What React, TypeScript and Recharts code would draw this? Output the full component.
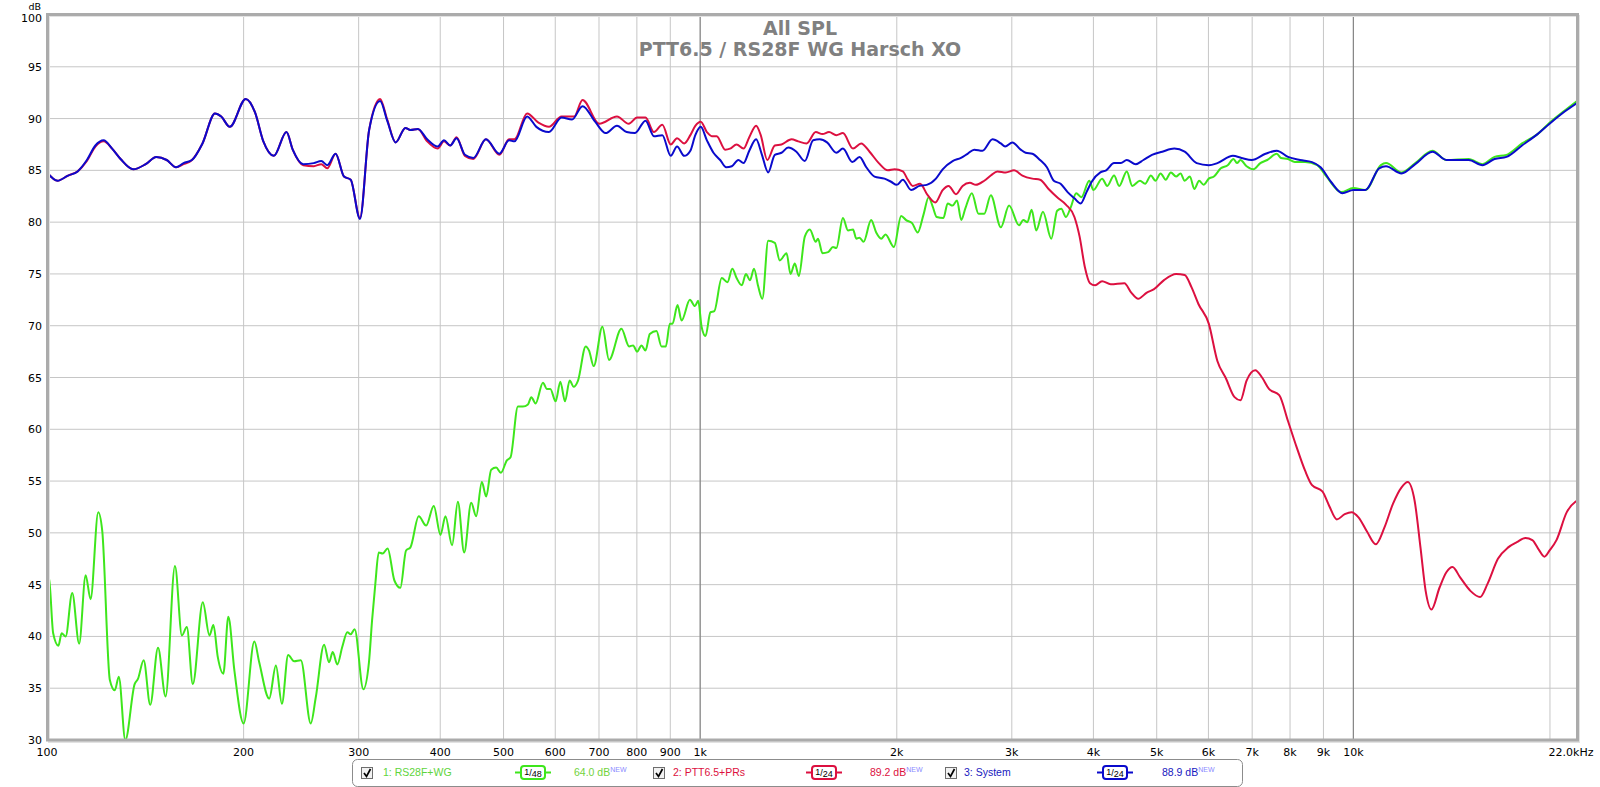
import React from "react";
import {
  LineChart,
  Line,
  XAxis,
  YAxis,
  CartesianGrid,
  ReferenceLine,
} from "recharts";

// 1: RS28F+WG (tweeter on waveguide)
const greenFreq = [
  100, 100.7, 102.2, 104.1, 105.3, 106.8, 109.3, 112.0, 114.6, 116.6, 119.8, 121.5, 124.8, 127.0, 128.8,
  131.8, 136.2, 137.8, 140.6, 143.9, 147.9, 151.9, 157.0, 160.9, 163.7, 167.2, 173.2, 177.3, 179.8, 182.6,
  186.2, 189.5, 193.6, 200.0, 207.7, 211.3, 218.9, 224.1, 228.9, 234.0, 239.0, 244.7, 253.4, 257.9, 265.6,
  270.3, 273.8, 278.3, 283.2, 288.3, 291.7, 295.8, 305.0, 311.1, 314.5, 318.2, 322.0, 326.5, 332.3, 340.3,
  347.5, 354.6, 360.1, 370.8, 380.6, 391.0, 400.3, 407.4, 417.1, 425.6, 435.2, 446.1, 454.0, 463.2, 470.3,
  478.7, 487.2, 495.3, 505.9, 512.5, 526.0, 535.4, 544.9, 551.4, 559.8, 574.5, 582.7, 589.6, 600.8, 610.8,
  621.0, 631.2, 640.2, 650.1, 668.0, 675.9, 687.1, 708.4, 725.3, 757.6, 778.4, 789.4, 800.7, 813.1, 824.6,
  837.3, 857.3, 872.5, 886.0, 898.6, 907.2, 923.3, 936.5, 964.5, 981.7, 993.3, 1005, 1019, 1037, 1051,
  1079, 1101, 1120, 1137, 1158, 1175, 1192, 1209, 1227, 1245, 1271, 1301, 1324, 1356, 1375,
  1396, 1416, 1446, 1472, 1503, 1515, 1539, 1570, 1597, 1616, 1654, 1684, 1714, 1734, 1754,
  1779, 1827, 1860, 1893, 1922, 1980, 2031, 2067, 2111, 2153, 2197, 2238, 2270, 2302, 2357,
  2393, 2435, 2473, 2510, 2546, 2606, 2668, 2722, 2786, 2886, 2971, 3077, 3124, 3169, 3217,
  3270, 3348, 3448, 3520, 3572, 3630, 3696, 3764, 3833, 3942, 4000, 4124, 4200, 4302, 4381,
  4499, 4588, 4713, 4800, 4898, 4977, 5069, 5161, 5256, 5353, 5438, 5518, 5620, 5709, 5806,
  5899, 6007, 6117, 6267, 6422, 6555, 6635, 6716, 6864, 7033, 7205, 7382, 7635, 7748, 7942,
  8135, 8436, 8804, 9074, 9584, 10000, 10434, 11019, 11221, 11853, 12441, 13218, 13881, 15017, 15764,
  16448, 17160, 18124, 19143, 19973, 21093, 22000,
];
const greenDb = [
  45.7, 45.6, 40.3, 39.1, 40.3, 40.0, 44.2, 39.3, 45.9, 43.6, 52.0, 50.2, 35.8, 34.8, 36.1,
  30.0, 35.4, 35.9, 37.7, 33.4, 38.9, 34.2, 46.8, 40.1, 40.9, 35.4, 43.3, 40.1, 41.1, 38.0,
  36.4, 41.9, 36.7, 31.6, 39.5, 37.5, 34.0, 37.2, 33.5, 38.2, 37.6, 37.7, 31.6, 34.1, 39.2,
  37.5, 38.5, 37.3, 39.0, 40.4, 40.2, 40.7, 34.9, 37.5, 41.5, 45.1, 48.1, 48.0, 48.5, 45.4,
  44.7, 48.3, 48.6, 51.6, 50.7, 52.6, 49.8, 51.6, 48.8, 53.0, 48.1, 52.9, 51.6, 54.9, 53.5,
  56.1, 56.3, 55.8, 57.0, 57.3, 62.2, 62.2, 62.4, 63.1, 62.5, 64.5, 63.9, 63.9, 62.7, 64.6,
  62.7, 64.7, 64.1, 64.7, 68.0, 67.6, 66.1, 69.9, 66.7, 69.7, 68.0, 68.1, 67.5, 68.1, 67.6,
  69.2, 69.5, 68.0, 68.0, 70.2, 70.2, 72.0, 70.5, 72.5, 71.9, 72.4, 69.9, 69.0, 71.3, 71.4,
  74.6, 74.2, 75.5, 74.6, 73.9, 75.0, 74.4, 75.5, 73.8, 72.6, 78.2, 78.0, 76.3, 77.0, 75.0,
  76.0, 74.8, 78.6, 79.3, 78.1, 78.4, 77.0, 77.1, 77.6, 77.5, 80.4, 79.2, 79.3, 78.4, 78.5,
  78.1, 80.2, 79.0, 78.4, 78.8, 77.6, 80.6, 80.2, 79.9, 79.0, 80.7, 82.4, 81.5, 80.5, 80.4,
  81.8, 81.6, 82.1, 80.2, 81.3, 82.8, 80.8, 80.8, 82.6, 79.5, 81.6, 79.7, 80.2, 80.0, 81.2,
  79.2, 81.0, 78.4, 81.1, 81.3, 80.5, 81.5, 82.8, 82.4, 84.0, 83.1, 84.2, 83.5, 84.5, 83.5,
  84.9, 83.5, 84.0, 83.7, 84.5, 84.0, 84.7, 84.1, 84.8, 84.4, 84.7, 84.0, 84.4, 83.2, 84.0,
  83.6, 84.2, 84.4, 85.2, 85.5, 86.1, 85.7, 86.0, 85.4, 85.1, 85.7, 86.0, 86.6, 86.2, 86.1,
  85.8, 85.8, 85.5, 84.5, 82.9, 83.3, 83.1, 85.5, 85.7, 84.8, 85.7, 86.9, 86.0, 86.1, 85.6,
  86.3, 86.5, 87.6, 88.5, 89.6, 90.8, 91.7,
];

// 2: PTT6.5+PRs (woofer)
const redFreq = [
  100, 103.8, 107.7, 111.4, 115.1, 118.6, 122.1, 125.8, 129.6, 135.5, 141.6, 147.0, 152.5, 157.6, 161.8,
  166.7, 173.0, 180.8, 184.8, 190.5, 201.5, 208.2, 214.4, 222.5, 232.6, 237.8, 246.8, 256.1, 263.0, 268.6,
  276.6, 284.9, 291.7, 301.4, 311.3, 323.6, 331.8, 341.8, 353.7, 360.0, 369.7, 382.0, 396.4, 405.3, 414.4,
  423.7, 436.4, 449.5, 469.9, 492.7, 509.8, 519.7, 543.3, 565.5, 586.8, 613.4, 641.2, 660.5, 700.8, 745.8,
  777.4, 800.7, 824.8, 849.6, 875.1, 901.4, 921.7, 945.4, 966, 983, 1002, 1024, 1042, 1060, 1092,
  1111, 1137, 1165, 1189, 1218, 1238, 1267, 1301, 1332, 1380, 1413, 1455, 1503, 1539, 1575,
  1616, 1654, 1714, 1764, 1817, 1877, 1938, 1984, 2043, 2079, 2116, 2171, 2230, 2291, 2351,
  2401, 2464, 2522, 2588, 2643, 2722, 2786, 2852, 2937, 3024, 3114, 3225, 3314, 3415, 3520,
  3630, 3741, 3810, 3880, 3952, 4024, 4124, 4251, 4461, 4571, 4684, 4829, 4947, 5130, 5353,
  5518, 5654, 5792, 6007, 6192, 6383, 6579, 6716, 6864, 7076, 7249, 7427, 7700, 7942, 8185,
  8436, 8645, 8965, 9185, 9434, 9701, 9939, 10184, 10498, 10821, 11156, 11498, 11853, 12114, 12411,
  12670, 12903, 13171, 13548, 13881, 14187, 14571, 15108, 15630, 16054, 16648, 17265, 17797, 18345, 18795,
  19259, 19613, 19973, 20464, 21222, 21878, 22000,
];
const redDb = [
  84.8, 84.0, 84.5, 84.9, 85.9, 87.3, 87.8, 87.1, 86.1, 85.1, 85.6, 86.3, 86.0, 85.3, 85.6,
  86.0, 87.6, 90.5, 90.2, 89.2, 91.9, 90.6, 87.8, 86.4, 88.7, 87.0, 85.5, 85.4, 85.6, 85.2,
  86.6, 84.4, 84.1, 80.4, 88.9, 91.9, 89.9, 87.7, 89.1, 88.9, 89.0, 87.8, 87.1, 87.8, 87.4,
  88.2, 86.4, 86.1, 88.0, 86.5, 88.0, 88.0, 90.5, 89.6, 89.2, 90.2, 90.2, 91.8, 89.5, 90.2,
  89.5, 90.1, 90.1, 88.7, 89.4, 87.5, 88.1, 87.6, 88.4, 89.3, 89.7, 88.7, 88.3, 88.3, 87.0,
  87.1, 87.5, 87.1, 88.2, 89.3, 88.4, 86.0, 87.4, 87.5, 88.0, 87.8, 87.6, 88.7, 88.5, 88.7,
  88.4, 88.6, 87.1, 87.6, 86.8, 85.7, 85.0, 85.1, 84.9, 84.1, 83.5, 83.7, 82.6, 81.9, 83.1,
  83.5, 82.7, 83.5, 83.8, 83.6, 84.0, 84.5, 84.9, 84.8, 85.0, 84.5, 84.2, 84.1, 83.2, 82.4,
  81.7, 80.5, 78.6, 75.7, 74.1, 73.9, 74.3, 74.0, 74.1, 73.2, 72.6, 73.2, 73.5, 74.4, 75.0,
  74.9, 73.7, 72.1, 70.2, 66.6, 64.9, 63.1, 62.8, 64.7, 65.7, 65.0, 63.9, 63.3, 60.8, 58.3,
  56.0, 54.6, 54.0, 52.6, 51.3, 51.8, 52.0, 51.5, 50.1, 48.9, 50.5, 52.8, 54.4, 54.9, 53.1,
  48.6, 44.4, 42.6, 44.7, 46.2, 46.7, 45.7, 44.4, 43.8, 45.1, 47.5, 48.6, 49.1, 49.5, 49.3,
  48.3, 47.7, 48.3, 49.3, 52.0, 53.0, 53.1,
];

// 3: System
const blueFreq = [
  100, 103.8, 107.7, 111.4, 115.1, 118.6, 122.1, 125.8, 129.6, 135.5, 141.6, 147.0, 152.5, 157.6, 161.8,
  166.7, 173.0, 180.8, 184.8, 190.5, 201.5, 208.2, 214.4, 222.5, 232.6, 237.8, 246.8, 256.1, 263.0, 268.6,
  276.6, 284.9, 291.7, 301.4, 311.3, 323.6, 331.8, 341.8, 353.7, 360.0, 369.7, 382.0, 396.4, 405.3, 414.4,
  423.7, 436.4, 449.5, 469.9, 492.7, 509.8, 519.7, 543.3, 561.3, 586.8, 613.4, 636.5, 660.5, 690.5, 716.6,
  745.8, 771.7, 794.8, 824.8, 849.6, 875.1, 901.4, 921.7, 945.4, 966, 983, 1002, 1024, 1048, 1073,
  1096, 1118, 1144, 1165, 1189, 1218, 1242, 1271, 1301, 1332, 1364, 1404, 1446, 1489, 1524,
  1564, 1616, 1654, 1710, 1754, 1796, 1849, 1915, 1960, 2000, 2043, 2104, 2166, 2223, 2296,
  2351, 2435, 2508, 2567, 2628, 2705, 2803, 2886, 2930, 3006, 3095, 3150, 3225, 3314, 3395,
  3478, 3563, 3652, 3741, 3824, 3904, 3976, 4099, 4184, 4302, 4407, 4499, 4644, 4771, 4917,
  5099, 5320, 5518, 5757, 6007, 6192, 6540, 6741, 6990, 7337, 7635, 7942, 8285, 8645, 8910,
  9241, 9619, 10000, 10434, 10953, 11221, 11853, 12441, 13218, 13881, 15017, 15764, 16448, 17160, 18124,
  19143, 19973, 21093, 22000,
];
const blueDb = [
  84.8, 84.0, 84.5, 84.9, 86.0, 87.4, 87.9, 87.1, 86.1, 85.1, 85.6, 86.3, 86.0, 85.3, 85.7,
  86.0, 87.6, 90.5, 90.2, 89.2, 91.9, 90.6, 87.8, 86.4, 88.7, 87.0, 85.6, 85.7, 85.9, 85.5,
  86.6, 84.4, 84.1, 80.3, 88.9, 91.7, 89.8, 87.7, 89.1, 88.9, 89.0, 88.0, 87.3, 87.9, 87.4,
  88.1, 86.5, 86.2, 88.0, 86.6, 87.9, 87.8, 90.2, 89.2, 88.7, 90.1, 89.9, 91.2, 89.7, 88.6,
  89.3, 88.7, 88.6, 89.8, 88.3, 88.4, 86.4, 87.3, 86.4, 86.9, 88.4, 89.2, 87.9, 86.7, 86.0,
  85.3, 85.4, 86.0, 85.7, 86.9, 88.0, 86.6, 84.8, 86.5, 86.7, 87.2, 86.8, 85.9, 87.9, 88.0,
  87.7, 86.7, 87.1, 85.8, 86.3, 85.3, 84.4, 84.2, 83.9, 83.6, 84.1, 83.1, 83.5, 83.6, 84.2,
  85.1, 85.9, 86.2, 86.6, 87.0, 86.9, 88.0, 87.6, 87.3, 87.7, 87.0, 86.7, 86.6, 86.0, 85.3,
  84.0, 83.7, 82.9, 82.3, 81.8, 82.9, 83.9, 84.8, 85.0, 85.7, 85.7, 86.0, 85.6, 86.0, 86.5,
  86.8, 87.1, 86.8, 85.7, 85.5, 85.7, 86.4, 86.2, 86.0, 86.6, 86.9, 86.3, 86.0, 85.8, 85.3,
  83.9, 82.8, 83.1, 83.1, 85.2, 85.4, 84.7, 85.6, 86.8, 86.0, 86.0, 85.5, 86.1, 86.3, 87.4,
  88.5, 89.5, 90.7, 91.5,
];

const xTicks = [
  100, 200, 300, 400, 500, 600, 700, 800, 900, 1000, 2000, 3000, 4000, 5000, 6000, 7000, 8000, 9000,
  10000, 20000, 22000,
];
const xTickLabels = [
  "100", "200", "300", "400", "500", "600", "700", "800", "900", "1k", "2k", "3k", "4k", "5k", "6k",
  "7k", "8k", "9k", "10k", "", "22.0kHz",
];
const yTicks = [30, 35, 40, 45, 50, 55, 60, 65, 70, 75, 80, 85, 90, 95, 100];

const GREEN = "#3ee61c";
const RED = "#dc1040";
const BLUE = "#0a0acc";
const AXIS_FONT = "'DejaVu Sans', Verdana, sans-serif";
const LEGEND_FONT = "'Liberation Sans', Arial, sans-serif";

const toPoints = (freq: number[], db: number[]) => freq.map((f, i) => ({ f, db: db[i] }));

const XTick = (props: any) => {
  const { x, y, payload } = props;
  const idx = xTicks.indexOf(payload.value);
  const label = idx >= 0 ? xTickLabels[idx] : "";
  if (!label) return null;
  const shift = payload.value === 22000 ? -6 : 0;
  return (
    <text x={x + shift} y={y + 16} textAnchor="middle" fontSize={11} fontFamily={AXIS_FONT} fill="#000">
      {label}
    </text>
  );
};

const YTick = (props: any) => {
  const { x, y, payload } = props;
  // top label sits a touch lower so it clears the "dB" unit above it
  const dy = payload.value === 100 ? 6.5 : 4;
  return (
    <text x={x - 5} y={y + dy} textAnchor="end" fontSize={11} fontFamily={AXIS_FONT} fill="#000">
      {payload.value}
    </text>
  );
};

const CheckBox = ({ x }: { x: number }) => (
  <g>
    <rect x={x + 0.5} y={767.5} width={11} height={11} fill="#f2f2f2" stroke="#6e6e6e" />
    <path d={`M${x + 3} ${773} L${x + 5.5} ${776.5} L${x + 9.5} ${769}`} fill="none" stroke="#000" strokeWidth={1.7} />
  </g>
);

const Badge = ({ cx, color, den }: { cx: number; color: string; den: string }) => (
  <g>
    <line x1={cx - 18} x2={cx + 18} y1={772.5} y2={772.5} stroke={color} strokeWidth={2} />
    <rect x={cx - 12} y={766} width={24} height={13} rx={3} fill="#fff" stroke={color} strokeWidth={2} />
    <text x={cx} y={776.5} textAnchor="middle" fontSize={9} fontFamily={LEGEND_FONT} fill="#000">
      <tspan dy={-2}>1</tspan>
      <tspan dy={1}>/</tspan>
      <tspan dy={1.5}>{den}</tspan>
    </text>
  </g>
);

const Level = ({ x, color, text }: { x: number; color: string; text: string }) => (
  <text x={x} y={776} fontSize={10.5} fontFamily={LEGEND_FONT} fill={color}>
    {text}
    <tspan dy={-4} fontSize={7} fill="#8a8aff">NEW</tspan>
  </text>
);

export default function App() {
  return (
    <div style={{ position: "absolute", left: 0, top: 0, width: 1600, height: 787, background: "#fff" }}>
      <LineChart width={1600} height={787} margin={{ top: 15, right: 23, bottom: 0, left: 0 }}>
        <CartesianGrid stroke="#c6c6c6" strokeWidth={1} />
        <XAxis
          dataKey="f"
          type="number"
          scale="log"
          domain={[100, 22000]}
          allowDataOverflow
          ticks={xTicks}
          interval={0}
          height={47}
          tickSize={0}
          tickMargin={0}
          axisLine={false}
          tickLine={false}
          tick={<XTick />}
        />
        <YAxis
          type="number"
          domain={[30, 100]}
          allowDataOverflow
          ticks={yTicks}
          interval={0}
          width={47}
          tickSize={0}
          tickMargin={0}
          axisLine={false}
          tickLine={false}
          tick={<YTick />}
        />
        <ReferenceLine x={1000} stroke="#7a7a7a" />
        <ReferenceLine x={10000} stroke="#7a7a7a" />
        <Line
          data={toPoints(greenFreq, greenDb)}
          dataKey="db"
          name="1: RS28F+WG"
          type="monotone"
          stroke={GREEN}
          strokeWidth={2}
          dot={false}
          isAnimationActive={false}
        />
        <Line
          data={toPoints(redFreq, redDb)}
          dataKey="db"
          name="2: PTT6.5+PRs"
          type="monotone"
          stroke={RED}
          strokeWidth={2}
          dot={false}
          isAnimationActive={false}
        />
        <Line
          data={toPoints(blueFreq, blueDb)}
          dataKey="db"
          name="3: System"
          type="monotone"
          stroke={BLUE}
          strokeWidth={2}
          dot={false}
          isAnimationActive={false}
        />
      </LineChart>

      <svg
        width={1600}
        height={787}
        style={{ position: "absolute", left: 0, top: 0, pointerEvents: "none" }}
      >
        {/* plot frame */}
        <rect x={49} y={16} width={1530} height={726} fill="none" stroke="#e2e2e2" strokeWidth={2} />
        <rect x={47.5} y={14.5} width={1530} height={725.5} fill="none" stroke="#ababab" strokeWidth={3} />

        <text x={41} y={9.5} textAnchor="end" fontSize={9.5} fontFamily={AXIS_FONT} fill="#000">dB</text>

        <text x={800} y={35} textAnchor="middle" fontSize={19} fontWeight="bold" fontFamily={AXIS_FONT} fill="#808080">
          All SPL
        </text>
        <text x={800} y={55.5} textAnchor="middle" fontSize={19} fontWeight="bold" fontFamily={AXIS_FONT} fill="#808080">
          PTT6.5 / RS28F WG Harsch XO
        </text>

        {/* legend */}
        <rect x={352.5} y={759.5} width={890} height={27} rx={5} fill="#fff" stroke="#8c8c8c" />
        <CheckBox x={361} />
        <text x={383} y={776} fontSize={10.5} fontFamily={LEGEND_FONT} fill="#5ed43c">1: RS28F+WG</text>
        <Badge cx={533} color={GREEN} den="48" />
        <Level x={574} color="#72d23c" text="64.0 dB" />

        <CheckBox x={653} />
        <text x={673} y={776} fontSize={10.5} fontFamily={LEGEND_FONT} fill={RED}>2: PTT6.5+PRs</text>
        <Badge cx={824} color={RED} den="24" />
        <Level x={870} color={RED} text="89.2 dB" />

        <CheckBox x={945} />
        <text x={964} y={776} fontSize={10.5} fontFamily={LEGEND_FONT} fill="#1818c0">3: System</text>
        <Badge cx={1115} color={BLUE} den="24" />
        <Level x={1162} color="#1818c0" text="88.9 dB" />
      </svg>
    </div>
  );
}
